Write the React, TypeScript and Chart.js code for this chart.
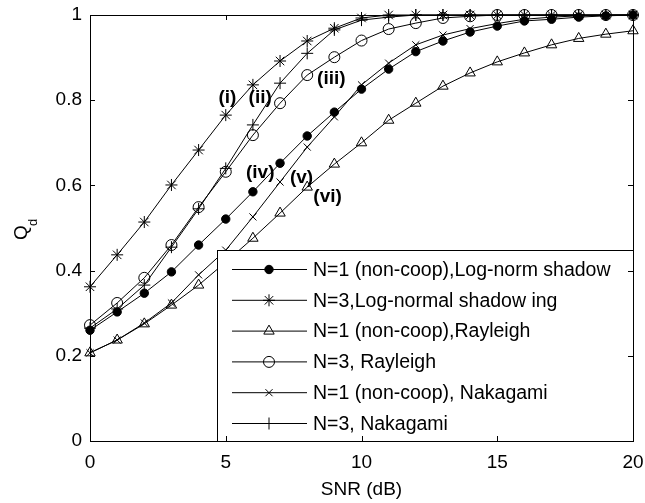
import React, { useEffect, useRef } from 'react';
import { Chart, registerables } from 'chart.js';
import { drawPoint } from 'chart.js/helpers';

Chart.register(...registerables);

const snrDb = [0, 1, 2, 3, 4, 5, 6, 7, 8, 9, 10, 11, 12, 13, 14, 15, 16, 17, 18, 19, 20];

const logNormN1 = [0.26, 0.303, 0.347, 0.397, 0.46, 0.521, 0.585, 0.652, 0.716, 0.772, 0.826, 0.873, 0.914, 0.939, 0.96, 0.974, 0.986, 0.99, 0.995, 0.998, 1.0];
const logNormN3 = [0.362, 0.437, 0.514, 0.601, 0.683, 0.765, 0.836, 0.892, 0.939, 0.969, 0.993, 1.0, 1.0, 1.0, 1.0, 1.0, 1.0, 1.0, 1.0, 1.0, 1.0];
const rayleighN1 = [0.207, 0.237, 0.275, 0.319, 0.366, 0.42, 0.476, 0.535, 0.596, 0.65, 0.70, 0.753, 0.793, 0.833, 0.864, 0.89, 0.911, 0.93, 0.945, 0.955, 0.963];
const rayleighN3 = [0.272, 0.324, 0.383, 0.46, 0.549, 0.632, 0.718, 0.793, 0.859, 0.901, 0.94, 0.967, 0.981, 0.993, 0.997, 1.0, 1.0, 1.0, 1.0, 1.0, 1.0];
const nakagamiN1 = [0.207, 0.237, 0.277, 0.324, 0.39, 0.448, 0.526, 0.608, 0.69, 0.761, 0.836, 0.887, 0.93, 0.953, 0.968, 0.98, 0.99, 0.995, 0.998, 1.0, 1.0];
const nakagamiN3 = [0.265, 0.31, 0.366, 0.455, 0.545, 0.64, 0.742, 0.84, 0.91, 0.965, 0.988, 0.995, 1.0, 1.0, 1.0, 1.0, 1.0, 1.0, 1.0, 1.0, 1.0];

const seriesLabels = [
  'N=1 (non-coop),Log-norm shadow',
  'N=3,Log-normal shadow ing',
  'N=1 (non-coop),Rayleigh',
  'N=3, Rayleigh',
  'N=1 (non-coop), Nakagami',
  'N=3, Nakagami',
];

const xTickValues = [0, 5, 10, 15, 20];
const yTickValues = [0, 0.2, 0.4, 0.6, 0.8, 1];

const curveTags = ['(i)', '(ii)', '(iii)', '(iv)', '(v)', '(vi)'];
const curveTagSnr = [5.06, 6.27, 8.89, 6.27, 7.79, 8.75];
const curveTagQd = [0.805, 0.805, 0.85, 0.629, 0.617, 0.573];

const FONT = 'Arial, "Liberation Sans", Helvetica, sans-serif';

const markerStyles = [
  { pointStyle: 'circle', radius: 4.2, fill: '#000' },
  { pointStyle: 'star', radius: 6, fill: 'rgba(0,0,0,0)' },
  { pointStyle: 'triangle', radius: 6, fill: 'rgba(0,0,0,0)' },
  { pointStyle: 'circle', radius: 5.5, fill: 'rgba(0,0,0,0)' },
  { pointStyle: 'crossRot', radius: 5, fill: 'rgba(0,0,0,0)' },
  { pointStyle: 'cross', radius: 6, fill: 'rgba(0,0,0,0)' },
];

const seriesValues = [logNormN1, logNormN3, rayleighN1, rayleighN3, nakagamiN1, nakagamiN3];

const decorPlugin = {
  id: 'decor',
  afterDatasetsDraw(chart: any) {
    const { ctx, chartArea } = chart;
    const left = chartArea.left + 127;
    const top = chartArea.top + 235;
    const right = chartArea.right;
    const bottom = chartArea.bottom;
    ctx.save();
    ctx.fillStyle = '#fff';
    ctx.fillRect(left, top, right - left, bottom - top);
    ctx.strokeStyle = '#000';
    ctx.lineWidth = 1;
    ctx.strokeRect(left + 0.5, top + 0.5, right - left, bottom - top);
    chart.data.datasets.forEach((ds: any, i: number) => {
      const y = top + 19.5 + i * 30.8;
      ctx.strokeStyle = '#000';
      ctx.lineWidth = 1;
      ctx.beginPath();
      ctx.moveTo(left + 15, y);
      ctx.lineTo(left + 90, y);
      ctx.stroke();
      const ms = markerStyles[i];
      ctx.fillStyle = ms.fill;
      ctx.strokeStyle = '#000';
      drawPoint(ctx, { pointStyle: ms.pointStyle, rotation: 0, radius: ms.radius, borderWidth: 1 } as any, left + 52, y);
      ctx.fillStyle = '#000';
      ctx.font = `19.5px ${FONT}`;
      ctx.textAlign = 'left';
      ctx.textBaseline = 'middle';
      ctx.fillText(ds.label, left + 96, y + 1);
    });
    ctx.restore();
  },
  afterDraw(chart: any) {
    const { ctx, chartArea, scales } = chart;
    const xs = scales.x;
    const ys = scales.y;
    ctx.save();
    ctx.strokeStyle = '#000';
    ctx.lineWidth = 1;
    ctx.beginPath();
    ctx.moveTo(chartArea.left + 0.5, chartArea.top + 0.5);
    ctx.lineTo(chartArea.right + 0.5, chartArea.top + 0.5);
    ctx.lineTo(chartArea.right + 0.5, chartArea.bottom + 0.5);
    ctx.lineTo(chartArea.left + 0.5, chartArea.bottom + 0.5);
    ctx.closePath();
    ctx.stroke();
    const tl = 5;
    ctx.beginPath();
    xTickValues.forEach((v) => {
      const px = Math.round(xs.getPixelForValue(v)) + 0.5;
      ctx.moveTo(px, chartArea.bottom);
      ctx.lineTo(px, chartArea.bottom - tl);
      ctx.moveTo(px, chartArea.top);
      ctx.lineTo(px, chartArea.top + tl);
    });
    yTickValues.forEach((v) => {
      const py = Math.round(ys.getPixelForValue(v)) + 0.5;
      ctx.moveTo(chartArea.left, py);
      ctx.lineTo(chartArea.left + tl, py);
      ctx.moveTo(chartArea.right, py);
      ctx.lineTo(chartArea.right - tl, py);
    });
    ctx.stroke();
    ctx.fillStyle = '#000';
    ctx.font = `bold 19px ${FONT}`;
    ctx.textAlign = 'center';
    ctx.textBaseline = 'middle';
    curveTags.forEach((t, i) => {
      ctx.fillText(t, xs.getPixelForValue(curveTagSnr[i]), ys.getPixelForValue(curveTagQd[i]));
    });
    ctx.font = `19px ${FONT}`;
    ctx.textAlign = 'center';
    ctx.textBaseline = 'alphabetic';
    ctx.fillText('SNR (dB)', (chartArea.left + chartArea.right) / 2, 495);
    ctx.translate(27, 240);
    ctx.rotate(-Math.PI / 2);
    ctx.textAlign = 'left';
    ctx.fillText('Q', 0, 0);
    ctx.font = `13px ${FONT}`;
    ctx.fillText('d', 14, 10);
    ctx.restore();
  },
};

export default function App() {
  const ref = useRef<HTMLCanvasElement | null>(null);
  useEffect(() => {
    document.body.style.margin = '0';
    const canvas = ref.current;
    if (!canvas) return;
    const chart = new Chart(canvas, {
      type: 'line',
      data: {
        datasets: seriesValues.map((vals, i) => ({
          label: seriesLabels[i],
          data: snrDb.map((x, j) => ({ x, y: vals[j] })),
          borderColor: '#000',
          borderWidth: 1,
          pointStyle: markerStyles[i].pointStyle as any,
          pointRadius: markerStyles[i].radius,
          pointBackgroundColor: markerStyles[i].fill,
          pointBorderColor: '#000',
          pointBorderWidth: 1,
          pointHoverRadius: markerStyles[i].radius,
          tension: 0,
          fill: false,
          clip: false as any,
        })),
      },
      options: {
        animation: false,
        responsive: false,
        devicePixelRatio: 1,
        events: [],
        layout: { padding: { top: 15, right: 12, left: 0, bottom: 0 } },
        plugins: {
          legend: { display: false },
          tooltip: { enabled: false },
        },
        scales: {
          x: {
            type: 'linear',
            min: 0,
            max: 20,
            grid: { display: false, drawTicks: false },
            border: { display: false },
            afterBuildTicks: (s: any) => {
              s.ticks = xTickValues.map((v) => ({ value: v }));
            },
            afterFit: (s: any) => {
              s.height = 62;
              s.paddingLeft = 0;
              s.paddingRight = 0;
            },
            ticks: {
              color: '#000',
              font: { family: FONT, size: 19 },
              padding: 10,
              maxRotation: 0,
              autoSkip: false,
            },
          },
          y: {
            type: 'linear',
            min: 0,
            max: 1,
            grid: { display: false, drawTicks: false },
            border: { display: false },
            afterBuildTicks: (s: any) => {
              s.ticks = yTickValues.map((v) => ({ value: v }));
            },
            afterFit: (s: any) => {
              s.width = 90;
              s.paddingTop = 0;
              s.paddingBottom = 0;
            },
            ticks: {
              color: '#000',
              font: { family: FONT, size: 19 },
              padding: 8,
              autoSkip: false,
              callback: (v: any) => String(Math.round(Number(v) * 10) / 10),
            },
          },
        },
      },
      plugins: [decorPlugin],
    });
    return () => chart.destroy();
  }, []);
  return (
    <div style={{ width: 645, height: 503, background: '#fff' }}>
      <canvas ref={ref} width={645} height={503} style={{ display: 'block' }} />
    </div>
  );
}
